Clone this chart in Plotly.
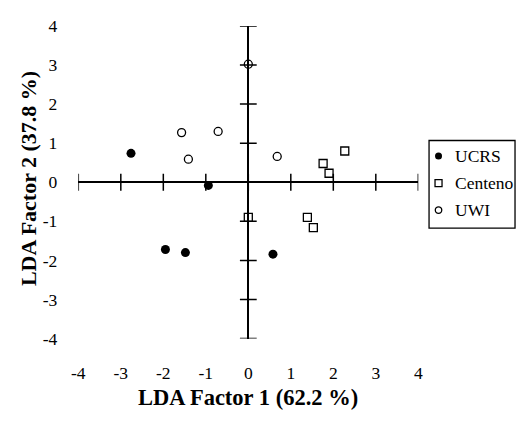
import plotly.graph_objects as go

# LDA scores (factor 1, factor 2) for each sample source
ucrs_x = [-2.76, -0.94, -1.95, -1.48, 0.58]
ucrs_y = [0.74, -0.08, -1.72, -1.80, -1.84]

centeno_x = [1.76, 1.90, 2.27, 0.00, 1.39, 1.53]
centeno_y = [0.48, 0.23, 0.80, -0.90, -0.90, -1.16]

uwi_x = [0.00, -1.57, -1.41, -0.71, 0.68]
uwi_y = [3.02, 1.27, 0.59, 1.30, 0.66]

series_names = ["UCRS", "Centeno", "UWI"]
tick_values = [-4, -3, -2, -1, 0, 1, 2, 3, 4]
tick_labels = ["-4", "-3", "-2", "-1", "0", "1", "2", "3", "4"]
x_title = "LDA Factor 1 (62.2 %)"
y_title = "LDA Factor 2 (37.8 %)"

W, H = 521, 421
FONT = "Liberation Serif"
INK = "#000000"

# marker styles per series (plot size, legend-key size)
styles = {
    "UCRS": dict(symbol="circle", color=INK, size=9, key_size=7, line=dict(width=0, color=INK)),
    "Centeno": dict(symbol="square-open", color=INK, size=8, key_size=7, line=dict(width=1.3, color=INK)),
    "UWI": dict(symbol="circle-open", color=INK, size=8, key_size=6.5, line=dict(width=1.3, color=INK)),
}

fig = go.Figure()

# tick marks straddling the axes that cross at the origin
fig.add_trace(go.Scatter(
    x=tick_values, y=[0] * len(tick_values), mode="markers", hoverinfo="skip",
    marker=dict(symbol="line-ns", size=12, line=dict(width=1.5, color=INK)),
    showlegend=False,
))
fig.add_trace(go.Scatter(
    x=[0] * len(tick_values), y=tick_values, mode="markers", hoverinfo="skip",
    marker=dict(symbol="line-ew", size=12, line=dict(width=1.5, color=INK)),
    showlegend=False,
))

for name, xs, ys in zip(series_names, [ucrs_x, centeno_x, uwi_x], [ucrs_y, centeno_y, uwi_y]):
    st = styles[name]
    fig.add_trace(go.Scatter(
        x=xs, y=ys, mode="markers", name=name, showlegend=False,
        marker=dict(symbol=st["symbol"], color=st["color"], size=st["size"], line=st["line"]),
    ))

# boxed key to the right of the plot, laid out in its own pixel-unit axes
KEY_W, KEY_H = 88, 92
KEY_ROW0, KEY_PITCH = 16.3, 28.4
KEY_SYM_X, KEY_TEXT_X = 9.7, 24.7
for i, name in enumerate(series_names):
    st = styles[name]
    fig.add_trace(go.Scatter(
        x=[KEY_SYM_X], y=[KEY_ROW0 + KEY_PITCH * i], xaxis="x2", yaxis="y2",
        mode="markers", hoverinfo="skip", showlegend=False,
        marker=dict(symbol=st["symbol"], color=st["color"], size=st["key_size"], line=st["line"]),
    ))
    fig.add_annotation(
        x=KEY_TEXT_X, y=KEY_ROW0 + KEY_PITCH * i, xref="x2", yref="y2",
        text=name, showarrow=False, xanchor="left", yanchor="middle",
        font=dict(family=FONT, size=17.5, color=INK),
    )
fig.add_shape(type="rect", xref="x2 domain", yref="y2 domain", x0=0, x1=1, y0=0, y1=1,
              line=dict(color=INK, width=1.3), fillcolor="rgba(0,0,0,0)")

# axis titles
fig.add_annotation(
    x=247 / W, y=1 - 407 / H, xref="paper", yref="paper", text=f"<b>{x_title}</b>",
    showarrow=False, xanchor="center", yanchor="middle",
    font=dict(family=FONT, size=22.5, color=INK),
)
fig.add_annotation(
    x=22 / W, y=1 - 177 / H, xref="paper", yref="paper", text=f"<b>{y_title}</b>",
    showarrow=False, xanchor="center", yanchor="middle", textangle=-90,
    font=dict(family=FONT, size=22, color=INK),
)

axis_common = dict(
    range=[-4, 4], tickvals=tick_values, ticktext=tick_labels, ticks="",
    showgrid=False, showline=False, zeroline=True, zerolinecolor=INK, zerolinewidth=1.6,
    tickfont=dict(family=FONT, size=17.5, color=INK), fixedrange=True,
)

fig.update_layout(
    width=W, height=H,
    margin=dict(l=0, r=0, t=0, b=0),
    paper_bgcolor="white", plot_bgcolor="white",
    showlegend=False,
    xaxis=dict(domain=[73 / W, 421 / W], ticklabelstandoff=22, **axis_common),
    yaxis=dict(domain=[1 - 345 / H, 1 - 16.7 / H], ticklabelstandoff=20, **axis_common),
    xaxis2=dict(domain=[432 / W, 520 / W], range=[0, KEY_W], visible=False, fixedrange=True),
    yaxis2=dict(domain=[1 - 229 / H, 1 - 137 / H], range=[KEY_H, 0], visible=False, fixedrange=True),
)

fig.write_html("out.html")
